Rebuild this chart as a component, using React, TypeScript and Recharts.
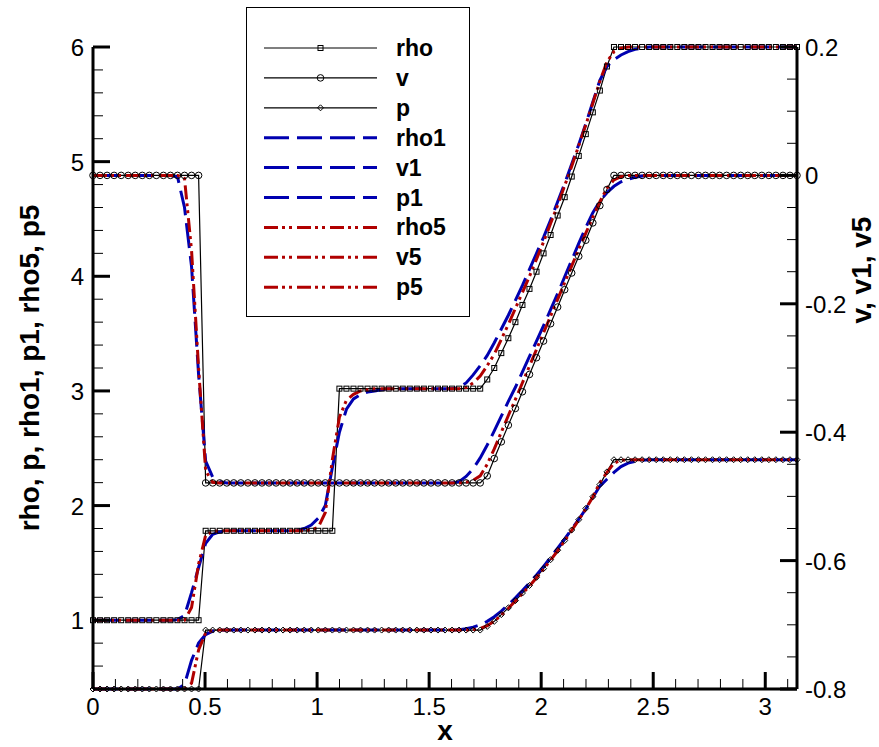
import { ComposedChart, Line, XAxis, YAxis, Legend } from 'recharts';

// grid points (101 nodes on [0, pi])
const X = [
  0, 0.0314, 0.0628, 0.0942, 0.1257, 0.1571, 0.1885, 0.2199, 0.2513, 0.2827,
  0.3142, 0.3456, 0.377, 0.4084, 0.4398, 0.4712, 0.5027, 0.5341, 0.5655, 0.5969,
  0.6283, 0.6597, 0.6912, 0.7226, 0.754, 0.7854, 0.8168, 0.8482, 0.8796, 0.9111,
  0.9425, 0.9739, 1.0053, 1.0367, 1.0681, 1.0996, 1.131, 1.1624, 1.1938, 1.2252,
  1.2566, 1.2881, 1.3195, 1.3509, 1.3823, 1.4137, 1.4451, 1.4765, 1.508, 1.5394,
  1.5708, 1.6022, 1.6336, 1.665, 1.6965, 1.7279, 1.7593, 1.7907, 1.8221, 1.8535,
  1.885, 1.9164, 1.9478, 1.9792, 2.0106, 2.042, 2.0735, 2.1049, 2.1363, 2.1677,
  2.1991, 2.2305, 2.2619, 2.2934, 2.3248, 2.3562, 2.3876, 2.419, 2.4504, 2.4819,
  2.5133, 2.5447, 2.5761, 2.6075, 2.6389, 2.6704, 2.7018, 2.7332, 2.7646, 2.796,
  2.8274, 2.8588, 2.8903, 2.9217, 2.9531, 2.9845, 3.0159, 3.0473, 3.0788, 3.1102,
  3.1416,
];

// exact solution
const RHO = [
  1, 1, 1, 1, 1, 1, 1, 1, 1, 1,
  1, 1, 1, 1, 1, 1, 1.78, 1.78, 1.78, 1.78,
  1.78, 1.78, 1.78, 1.78, 1.78, 1.78, 1.78, 1.78, 1.78, 1.78,
  1.78, 1.78, 1.78, 1.78, 1.78, 3.02, 3.02, 3.02, 3.02, 3.02,
  3.02, 3.02, 3.02, 3.02, 3.02, 3.02, 3.02, 3.02, 3.02, 3.02,
  3.02, 3.02, 3.02, 3.02, 3.02, 3.02, 3.1, 3.2, 3.33, 3.46,
  3.6, 3.75, 3.89, 4.04, 4.2, 4.36, 4.53, 4.69, 4.87, 5.05,
  5.24, 5.43, 5.62, 5.83, 6, 6, 6, 6, 6, 6,
  6, 6, 6, 6, 6, 6, 6, 6, 6, 6,
  6, 6, 6, 6, 6, 6, 6, 6, 6, 6,
  6,
];
const V = [
  0, 0, 0, 0, 0, 0, 0, 0, 0, 0,
  0, 0, 0, 0, 0, 0, -0.479, -0.479, -0.479, -0.479,
  -0.479, -0.479, -0.479, -0.479, -0.479, -0.479, -0.479, -0.479, -0.479, -0.479,
  -0.479, -0.479, -0.479, -0.479, -0.479, -0.479, -0.479, -0.479, -0.479, -0.479,
  -0.479, -0.479, -0.479, -0.479, -0.479, -0.479, -0.479, -0.479, -0.479, -0.479,
  -0.479, -0.479, -0.479, -0.479, -0.479, -0.479, -0.468, -0.441, -0.415, -0.389,
  -0.363, -0.337, -0.31, -0.284, -0.258, -0.231, -0.205, -0.178, -0.152, -0.126,
  -0.101, -0.074, -0.047, -0.022, 0, 0, 0, 0, 0, 0,
  0, 0, 0, 0, 0, 0, 0, 0, 0, 0,
  0, 0, 0, 0, 0, 0, 0, 0, 0, 0,
  0,
];
const P = [
  0.4, 0.4, 0.4, 0.4, 0.4, 0.4, 0.4, 0.4, 0.4, 0.4,
  0.4, 0.4, 0.4, 0.4, 0.4, 0.4, 0.914, 0.914, 0.914, 0.914,
  0.914, 0.914, 0.914, 0.914, 0.914, 0.914, 0.914, 0.914, 0.914, 0.914,
  0.914, 0.914, 0.914, 0.914, 0.914, 0.914, 0.914, 0.914, 0.914, 0.914,
  0.914, 0.914, 0.914, 0.914, 0.914, 0.914, 0.914, 0.914, 0.914, 0.914,
  0.914, 0.914, 0.914, 0.914, 0.914, 0.914, 0.946, 0.99, 1.049, 1.108,
  1.171, 1.237, 1.303, 1.374, 1.45, 1.528, 1.61, 1.695, 1.787, 1.877,
  1.975, 2.077, 2.183, 2.294, 2.4, 2.4, 2.4, 2.4, 2.4, 2.4,
  2.4, 2.4, 2.4, 2.4, 2.4, 2.4, 2.4, 2.4, 2.4, 2.4,
  2.4, 2.4, 2.4, 2.4, 2.4, 2.4, 2.4, 2.4, 2.4, 2.4,
  2.4,
];

// scheme 1 (blue dashed)
const RHO1 = [
  1, 1, 1, 1, 1, 1, 1, 1, 1, 1,
  1, 1, 1.005, 1.04, 1.24, 1.46, 1.67, 1.75, 1.77, 1.78,
  1.78, 1.78, 1.78, 1.78, 1.78, 1.78, 1.78, 1.78, 1.78, 1.785,
  1.8, 1.83, 1.89, 2.0, 2.33, 2.64, 2.84, 2.93, 2.97, 2.99,
  3.0, 3.01, 3.02, 3.02, 3.02, 3.02, 3.02, 3.02, 3.02, 3.02,
  3.02, 3.02, 3.03, 3.07, 3.14, 3.22, 3.31, 3.42, 3.54, 3.66,
  3.79, 3.92, 4.06, 4.2, 4.34, 4.49, 4.65, 4.81, 4.98, 5.15,
  5.33, 5.52, 5.71, 5.83, 5.89, 5.93, 5.96, 5.98, 5.99, 6,
  6, 6, 6, 6, 6, 6, 6, 6, 6, 6,
  6, 6, 6, 6, 6, 6, 6, 6, 6, 6,
  6,
];
const V1 = [
  0, 0, 0, 0, 0, 0, 0, 0, 0, 0,
  0, 0, -0.002, -0.05, -0.142, -0.31, -0.445, -0.47, -0.477, -0.479,
  -0.479, -0.479, -0.479, -0.479, -0.479, -0.479, -0.479, -0.479, -0.479, -0.479,
  -0.479, -0.479, -0.479, -0.479, -0.479, -0.479, -0.479, -0.479, -0.479, -0.479,
  -0.479, -0.479, -0.479, -0.479, -0.479, -0.479, -0.479, -0.479, -0.479, -0.479,
  -0.479, -0.479, -0.477, -0.469, -0.457, -0.44, -0.42, -0.398, -0.375, -0.352,
  -0.33, -0.306, -0.282, -0.258, -0.234, -0.209, -0.184, -0.158, -0.132, -0.106,
  -0.081, -0.058, -0.04, -0.027, -0.017, -0.01, -0.006, -0.003, -0.001, 0,
  0, 0, 0, 0, 0, 0, 0, 0, 0, 0,
  0, 0, 0, 0, 0, 0, 0, 0, 0, 0,
  0,
];
const P1 = [
  0.4, 0.4, 0.4, 0.4, 0.4, 0.4, 0.4, 0.4, 0.4, 0.4,
  0.4, 0.4, 0.4, 0.44, 0.65, 0.8, 0.875, 0.905, 0.913, 0.914,
  0.914, 0.914, 0.914, 0.914, 0.914, 0.914, 0.914, 0.914, 0.914, 0.914,
  0.914, 0.914, 0.914, 0.914, 0.914, 0.914, 0.914, 0.914, 0.914, 0.914,
  0.914, 0.914, 0.914, 0.914, 0.914, 0.914, 0.914, 0.914, 0.914, 0.914,
  0.914, 0.914, 0.917, 0.925, 0.94, 0.96, 0.99, 1.03, 1.08, 1.135,
  1.195, 1.258, 1.325, 1.395, 1.47, 1.548, 1.628, 1.71, 1.795, 1.88,
  1.97, 2.07, 2.17, 2.23, 2.29, 2.34, 2.37, 2.385, 2.395, 2.4,
  2.4, 2.4, 2.4, 2.4, 2.4, 2.4, 2.4, 2.4, 2.4, 2.4,
  2.4, 2.4, 2.4, 2.4, 2.4, 2.4, 2.4, 2.4, 2.4, 2.4,
  2.4,
];

// scheme 5 (red dash-dot-dot)
const RHO5 = [
  1, 1, 1, 1, 1, 1, 1, 1, 1, 1,
  1, 1, 1, 1, 1.11, 1.49, 1.74, 1.775, 1.78, 1.78,
  1.78, 1.78, 1.78, 1.78, 1.78, 1.78, 1.78, 1.78, 1.78, 1.78,
  1.78, 1.79, 1.81, 1.94, 2.4, 2.77, 2.92, 2.97, 3.0, 3.01,
  3.02, 3.02, 3.02, 3.02, 3.02, 3.02, 3.02, 3.02, 3.02, 3.02,
  3.02, 3.02, 3.02, 3.03, 3.07, 3.13, 3.22, 3.32, 3.45, 3.58,
  3.72, 3.86, 4.0, 4.15, 4.3, 4.46, 4.62, 4.79, 4.96, 5.14,
  5.32, 5.51, 5.7, 5.87, 5.96, 5.99, 6, 6, 6, 6,
  6, 6, 6, 6, 6, 6, 6, 6, 6, 6,
  6, 6, 6, 6, 6, 6, 6, 6, 6, 6,
  6,
];
const V5 = [
  0, 0, 0, 0, 0, 0, 0, 0, 0, 0,
  0, 0, 0, -0.005, -0.117, -0.3, -0.46, -0.478, -0.479, -0.479,
  -0.479, -0.479, -0.479, -0.479, -0.479, -0.479, -0.479, -0.479, -0.479, -0.479,
  -0.479, -0.479, -0.479, -0.479, -0.479, -0.479, -0.479, -0.479, -0.479, -0.479,
  -0.479, -0.479, -0.479, -0.479, -0.479, -0.479, -0.479, -0.479, -0.479, -0.479,
  -0.479, -0.479, -0.479, -0.478, -0.475, -0.468, -0.45, -0.426, -0.4, -0.374,
  -0.349, -0.323, -0.297, -0.271, -0.245, -0.219, -0.193, -0.167, -0.141, -0.115,
  -0.09, -0.065, -0.041, -0.02, -0.007, -0.002, 0, 0, 0, 0,
  0, 0, 0, 0, 0, 0, 0, 0, 0, 0,
  0, 0, 0, 0, 0, 0, 0, 0, 0, 0,
  0,
];
const P5 = [
  0.4, 0.4, 0.4, 0.4, 0.4, 0.4, 0.4, 0.4, 0.4, 0.4,
  0.4, 0.4, 0.4, 0.4, 0.45, 0.74, 0.89, 0.91, 0.914, 0.914,
  0.914, 0.914, 0.914, 0.914, 0.914, 0.914, 0.914, 0.914, 0.914, 0.914,
  0.914, 0.914, 0.914, 0.914, 0.914, 0.914, 0.914, 0.914, 0.914, 0.914,
  0.914, 0.914, 0.914, 0.914, 0.914, 0.914, 0.914, 0.914, 0.914, 0.914,
  0.914, 0.914, 0.914, 0.914, 0.918, 0.928, 0.952, 0.992, 1.045, 1.104,
  1.167, 1.232, 1.299, 1.37, 1.446, 1.524, 1.606, 1.692, 1.783, 1.875,
  1.972, 2.075, 2.2, 2.29, 2.37, 2.395, 2.4, 2.4, 2.4, 2.4,
  2.4, 2.4, 2.4, 2.4, 2.4, 2.4, 2.4, 2.4, 2.4, 2.4,
  2.4, 2.4, 2.4, 2.4, 2.4, 2.4, 2.4, 2.4, 2.4, 2.4,
  2.4,
];

// ticks
const X_MAJOR = [0, 0.5, 1, 1.5, 2, 2.5, 3];
const X_MINOR = [0.1, 0.2, 0.3, 0.4, 0.6, 0.7, 0.8, 0.9, 1.1, 1.2, 1.3, 1.4, 1.6, 1.7, 1.8, 1.9, 2.1, 2.2, 2.3, 2.4, 2.6, 2.7, 2.8, 2.9, 3.1];
const L_MAJOR = [1, 2, 3, 4, 5, 6];
const L_MINOR = [0.6, 0.8, 1.2, 1.4, 1.6, 1.8, 2.2, 2.4, 2.6, 2.8, 3.2, 3.4, 3.6, 3.8, 4.2, 4.4, 4.6, 4.8, 5.2, 5.4, 5.6, 5.8];
const R_MAJOR = [-0.8, -0.6, -0.4, -0.2, 0, 0.2];
const R_MINOR = [-0.75, -0.7, -0.65, -0.55, -0.5, -0.45, -0.35, -0.3, -0.25, -0.15, -0.1, -0.05, 0.05, 0.1, 0.15];

const BLUE = '#0000b0';
const RED = '#b00000';
const FONT = '"Liberation Sans", Arial, Helvetica, sans-serif';
const DASH_BLUE = '25 8';
const DASH_RED = '14 4 3 4 3 5';

const W = 879;
const H = 747;
const PLOT_L = 93;
const PLOT_R = 797;
const PLOT_T = 47;
const PLOT_B = 689;

type Marker = 'square' | 'circle' | 'diamond' | null;

const SERIES: { key: string; axis: string; color: string; width: number; dash?: string; marker: Marker }[] = [
  { key: 'rho', axis: 'L', color: '#000', width: 1.2, marker: 'square' },
  { key: 'v', axis: 'R', color: '#000', width: 1.2, marker: 'circle' },
  { key: 'p', axis: 'L', color: '#000', width: 1.2, marker: 'diamond' },
  { key: 'rho1', axis: 'L', color: BLUE, width: 3, dash: DASH_BLUE, marker: null },
  { key: 'v1', axis: 'R', color: BLUE, width: 3, dash: DASH_BLUE, marker: null },
  { key: 'p1', axis: 'L', color: BLUE, width: 3, dash: DASH_BLUE, marker: null },
  { key: 'rho5', axis: 'L', color: RED, width: 3, dash: DASH_RED, marker: null },
  { key: 'v5', axis: 'R', color: RED, width: 3, dash: DASH_RED, marker: null },
  { key: 'p5', axis: 'L', color: RED, width: 3, dash: DASH_RED, marker: null },
];

const rows = X.map((x, i) => ({
  x,
  rho: RHO[i], v: V[i], p: P[i],
  rho1: RHO1[i], v1: V1[i], p1: P1[i],
  rho5: RHO5[i], v5: V5[i], p5: P5[i],
}));

const sortNum = (a: number[]) => [...a].sort((m, n) => m - n);
const isIn = (list: number[], v: number) => list.some(m => Math.abs(m - v) < 1e-9);

const markerShape = (kind: Marker, cx: number, cy: number, key?: string) => {
  if (kind === 'square') {
    return <rect key={key} x={cx - 2.5} y={cy - 2.5} width={5} height={5} fill="none" stroke="#000" strokeWidth={1} />;
  }
  if (kind === 'circle') {
    return <circle key={key} cx={cx} cy={cy} r={3.3} fill="none" stroke="#000" strokeWidth={1} />;
  }
  if (kind === 'diamond') {
    return (
      <polygon
        key={key}
        points={`${cx},${cy - 3} ${cx + 3},${cy} ${cx},${cy + 3} ${cx - 3},${cy}`}
        fill="none"
        stroke="#000"
        strokeWidth={1}
      />
    );
  }
  return null;
};

const makeDot = (kind: Marker) => (props: any) => {
  const { cx, cy, index } = props;
  if (cx == null || cy == null) return <g key={`e${kind}${index}`} />;
  return markerShape(kind, cx, cy, `${kind}${index}`);
};

const tickText = { fontFamily: FONT, fontSize: 24, fill: '#000' };

const XTick = (props: any) => {
  const { x, y, payload } = props;
  const major = isIn(X_MAJOR, payload.value);
  return (
    <g>
      <line x1={x} y1={y} x2={x} y2={y - (major ? 17 : 10)} stroke="#000" strokeWidth={major ? 3 : 1} />
      {major && (
        <text x={x} y={y + 26} textAnchor="middle" {...tickText}>
          {String(payload.value)}
        </text>
      )}
    </g>
  );
};

const LTick = (props: any) => {
  const { x, y, payload } = props;
  const major = isIn(L_MAJOR, payload.value);
  return (
    <g>
      <line x1={x} y1={y} x2={x + (major ? 17 : 10)} y2={y} stroke="#000" strokeWidth={major ? 3 : 1} />
      {major && (
        <text x={x - 9} y={y + 9} textAnchor="end" {...tickText}>
          {String(payload.value)}
        </text>
      )}
    </g>
  );
};

const RTick = (props: any) => {
  const { x, y, payload } = props;
  const major = isIn(R_MAJOR, payload.value);
  return (
    <g>
      <line x1={x} y1={y} x2={x - (major ? 17 : 10)} y2={y} stroke="#000" strokeWidth={major ? 3 : 1} />
      {major && (
        <text x={x + 8} y={y + 9} textAnchor="start" {...tickText}>
          {String(payload.value)}
        </text>
      )}
    </g>
  );
};

const titleStyle = { fontFamily: FONT, fontSize: 28, fontWeight: 700, fill: '#000' };

const LegendBox = () => (
  <svg width={225} height={311} style={{ display: 'block' }}>
    <rect x={0.5} y={0.5} width={223} height={309} fill="#fff" stroke="#000" strokeWidth={1} />
    {SERIES.map((s, i) => {
      const y = 41 + i * 29.9;
      return (
        <g key={s.key}>
          <line x1={18} y1={y} x2={131} y2={y} stroke={s.color} strokeWidth={s.color === '#000' ? 1.2 : 3} strokeDasharray={s.dash} />
          {markerShape(s.marker, 74.5, y)}
          <text x={150} y={y + 8} style={{ ...titleStyle, fontSize: 23 }}>
            {s.key}
          </text>
        </g>
      );
    })}
  </svg>
);

export default function App() {
  return (
    <div style={{ position: 'absolute', left: 0, top: 0, background: '#fff' }}>
      <ComposedChart width={W} height={H} data={rows} margin={{ top: PLOT_T, right: 0, bottom: 0, left: 0 }}>
        <XAxis
          dataKey="x"
          type="number"
          domain={[0, 3.1416]}
          ticks={sortNum([...X_MAJOR, ...X_MINOR])}
          interval={0}
          tickSize={0}
          tickMargin={0}
          tickLine={false}
          tick={XTick}
          axisLine={{ stroke: '#000', strokeWidth: 3 }}
          height={H - PLOT_B}
          label={() => (
            <text x={(PLOT_L + PLOT_R) / 2} y={740} textAnchor="middle" style={titleStyle}>
              x
            </text>
          )}
        />
        <YAxis
          yAxisId="L"
          orientation="left"
          type="number"
          domain={[0.4, 6]}
          ticks={sortNum([...L_MAJOR, ...L_MINOR])}
          interval={0}
          tickSize={0}
          tickMargin={0}
          tickLine={false}
          tick={LTick}
          axisLine={{ stroke: '#000', strokeWidth: 3 }}
          width={PLOT_L}
          label={() => (
            <text
              x={39}
              y={(PLOT_T + PLOT_B) / 2}
              textAnchor="middle"
              transform={`rotate(-90 39 ${(PLOT_T + PLOT_B) / 2})`}
              style={titleStyle}
            >
              rho, p, rho1, p1, rho5, p5
            </text>
          )}
        />
        <YAxis
          yAxisId="R"
          orientation="right"
          type="number"
          domain={[-0.8, 0.2]}
          ticks={sortNum([...R_MAJOR, ...R_MINOR])}
          interval={0}
          tickSize={0}
          tickMargin={0}
          tickLine={false}
          tick={RTick}
          axisLine={{ stroke: '#000', strokeWidth: 3 }}
          width={W - PLOT_R}
          label={() => (
            <text x={871} y={270} textAnchor="middle" transform="rotate(-90 871 270)" style={titleStyle}>
              v, v1, v5
            </text>
          )}
        />
        <Legend
          layout="vertical"
          align="center"
          verticalAlign="middle"
          content={() => <LegendBox />}
          wrapperStyle={{ position: 'absolute', left: 246, top: 7, width: 225, height: 311 }}
        />
        {SERIES.map(s => (
          <Line
            key={s.key}
            yAxisId={s.axis}
            dataKey={s.key}
            type="linear"
            stroke={s.color}
            strokeWidth={s.width}
            strokeDasharray={s.dash}
            dot={s.marker ? makeDot(s.marker) : false}
            activeDot={false}
            isAnimationActive={false}
          />
        ))}
      </ComposedChart>
    </div>
  );
}
